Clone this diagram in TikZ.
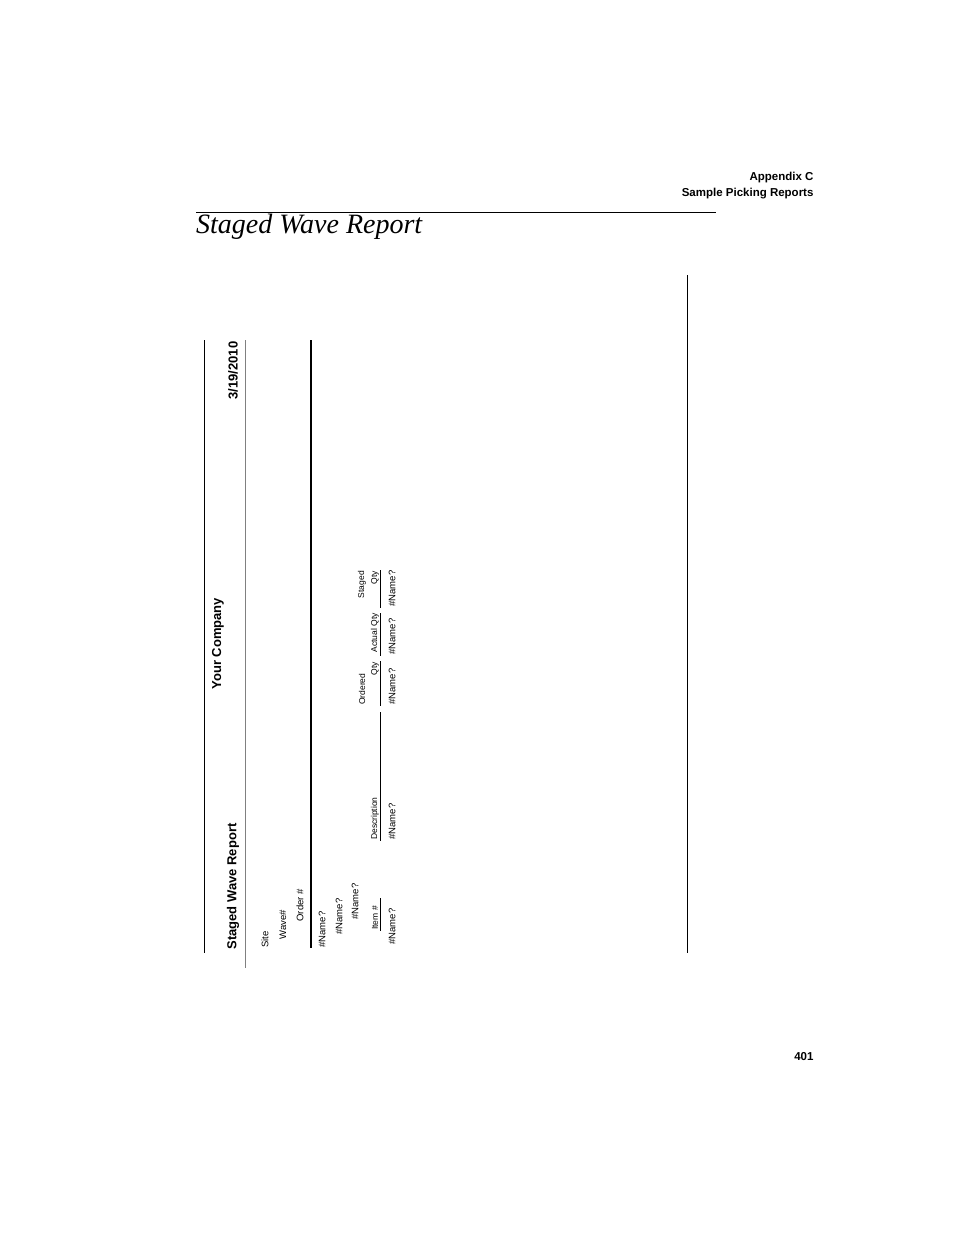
\documentclass[tikz,border=0pt]{standalone}
\usepackage{fontspec}
\setmainfont{Liberation Sans}
\newfontfamily\serifit{Liberation Serif}
\begin{document}
\begin{tikzpicture}[x=1pt,y=1pt,
  hdr/.style={font=\bfseries\fontsize{11.5}{13}\selectfont, anchor=east},
  fld/.style={rotate=90, anchor=west, font=\fontsize{9.5}{11}\selectfont},
  colhd/.style={rotate=90, anchor=west, inner sep=1pt, font=\fontsize{8.5}{10}\selectfont},
  colhdr/.style={colhd, anchor=east},
  big/.style={rotate=90, anchor=west, font=\bfseries\fontsize{13}{15}\selectfont}]

  \useasboundingbox (0,0) rectangle (954,-1235);

  % page header
  \node[hdr] (appx) at (817,-178) {Appendix C};
  \node[hdr] (sect) at (817,-194) {Sample Picking Reports};
  \draw[line width=0.8pt] (196,-212) -- (716,-212);
  \node[anchor=base west, inner sep=0, font=\serifit\itshape\fontsize{28}{32}\selectfont] (title) at (196,-233) {Staged Wave Report};
  \draw[line width=0.8pt] (687,-275) -- (687,-953);
  \node[hdr] (page) at (817,-1057) {401};

  % report frame
  \draw[line width=0.8pt] (204,-340) -- (204,-953);
  \draw[gray, line width=0.8pt] (245,-340) -- (245,-968);
  \draw[line width=1.8pt] (311,-340) -- (311,-948);

  % report heading
  \node[big] (rname) at (233,-953) {Staged Wave Report};
  \node[big] (comp) at (218,-693) {Your Company};
  \node[big] (date) at (233,-403) {3/19/2010};

  % group fields
  \node[fld] (site) at (265,-951) {Site};
  \node[fld] (wave) at (283,-943) {Wave\#};
  \node[fld] (order) at (300,-925) {Order \#};
  \node[fld] (grp1) at (322,-951) {\#Name?};
  \node[fld] (grp2) at (339,-938) {\#Name?};
  \node[fld] (grp3) at (355,-923) {\#Name?};

  % column heads
  \node[colhd] (item) at (375,-931) {Item \#};
  \node[colhd] (desc) at (375,-841) {Description};
  \node[colhd] (ord) at (362,-706) {Ordered};
  \node[colhdr] (oqty) at (375,-661) {Qty};
  \node[colhdr] (act) at (375,-612) {Actual Qty};
  \node[colhdr] (stg) at (362,-570) {Staged};
  \node[colhdr] (sqty) at (375,-570) {Qty};
  \draw[line width=0.6pt] (380,-898) -- (380,-931);
  \draw[line width=0.6pt] (380,-712) -- (380,-841);
  \draw[line width=0.6pt] (380,-661) -- (380,-706);
  \draw[line width=0.6pt] (380,-613) -- (380,-656);
  \draw[line width=0.6pt] (380,-570) -- (380,-608);

  % detail row
  \node[fld] (d1) at (392,-948) {\#Name?};
  \node[fld] (d2) at (392,-843) {\#Name?};
  \node[fld] (d3) at (392,-708) {\#Name?};
  \node[fld] (d4) at (392,-658) {\#Name?};
  \node[fld] (d5) at (392,-610) {\#Name?};
\end{tikzpicture}
\end{document}
